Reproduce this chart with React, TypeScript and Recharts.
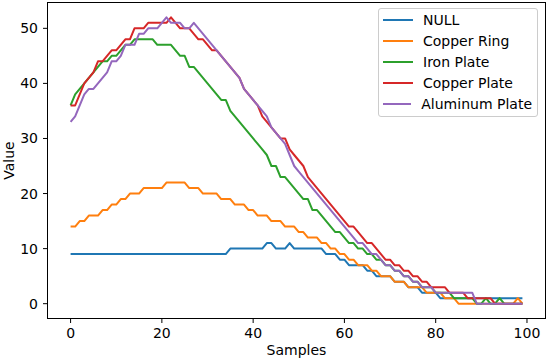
import React from "react";
import { LineChart, Line, XAxis, YAxis, Legend } from "recharts";

// readings per sample, one array per plate
const NULL_VALUES = [
  9, 9, 9, 9, 9, 9, 9, 9, 9, 9,
  9, 9, 9, 9, 9, 9, 9, 9, 9, 9,
  9, 9, 9, 9, 9, 9, 9, 9, 9, 9,
  9, 9, 9, 9, 9, 10, 10, 10, 10, 10,
  10, 10, 10, 11, 11, 10, 10, 10, 11, 10,
  10, 10, 10, 10, 10, 10, 9, 9, 9, 8,
  8, 7, 7, 7, 7, 6, 6, 5, 5, 5,
  5, 4, 4, 4, 3, 3, 3, 2, 2, 2,
  2, 1, 1, 1, 1, 1, 1, 1, 1, 1,
  1, 1, 1, 1, 1, 1, 1, 1, 1, 1,
];

const COPPER_RING = [
  14, 14, 15, 15, 16, 16, 16, 17, 17, 18,
  18, 19, 19, 20, 20, 20, 21, 21, 21, 21,
  21, 22, 22, 22, 22, 22, 21, 21, 21, 20,
  20, 20, 20, 19, 19, 19, 18, 18, 18, 17,
  17, 16, 16, 16, 15, 15, 15, 14, 14, 14,
  13, 13, 12, 12, 12, 11, 11, 10, 10, 9,
  9, 8, 8, 7, 7, 7, 6, 6, 5, 5,
  5, 4, 4, 4, 3, 3, 3, 3, 2, 2,
  2, 2, 1, 1, 1, 0, 0, 0, 0, 0,
  0, 0, 0, 0, 0, 0, 0, 0, 1, 0,
];

const IRON_PLATE = [
  36, 38, 39, 40, 41, 42, 43, 44, 44, 45,
  45, 46, 47, 47, 48, 48, 48, 48, 48, 47,
  47, 47, 47, 46, 45, 45, 43, 43, 42, 41,
  40, 39, 38, 37, 37, 35, 34, 33, 32, 31,
  30, 29, 28, 27, 25, 25, 23, 23, 22, 21,
  20, 19, 19, 17, 17, 16, 15, 14, 13, 13,
  12, 11, 11, 10, 10, 9, 9, 8, 8, 7,
  7, 6, 6, 5, 5, 4, 4, 3, 3, 3,
  2, 2, 2, 2, 1, 1, 1, 1, 1, 0,
  0, 1, 0, 0, 1, 0, 0, 0, 0, 0,
];

const COPPER_PLATE = [
  36, 36, 38, 40, 41, 42, 44, 44, 45, 46,
  46, 47, 48, 48, 50, 50, 50, 51, 51, 51,
  51, 51, 52, 51, 50, 50, 50, 49, 48, 48,
  47, 46, 46, 45, 44, 43, 42, 41, 39, 38,
  37, 36, 34, 33, 32, 31, 30, 30, 28, 27,
  26, 25, 23, 22, 21, 20, 19, 18, 17, 16,
  15, 14, 14, 13, 12, 11, 11, 10, 9, 8,
  8, 7, 7, 6, 6, 5, 5, 4, 4, 3,
  3, 3, 3, 2, 2, 2, 2, 1, 1, 1,
  1, 1, 1, 0, 0, 0, 0, 0, 0, 0,
];

const ALUMINUM_PLATE = [
  33, 34, 36, 38, 39, 39, 40, 41, 42, 44,
  44, 45, 47, 47, 47, 49, 49, 50, 50, 50,
  51, 52, 51, 51, 51, 50, 50, 51, 50, 49,
  48, 47, 46, 45, 44, 43, 42, 41, 39, 38,
  37, 36, 35, 34, 32, 31, 30, 29, 27, 25,
  24, 23, 22, 21, 20, 19, 18, 17, 16, 15,
  14, 13, 12, 11, 11, 10, 9, 9, 8, 7,
  7, 6, 6, 5, 5, 4, 4, 3, 3, 3,
  2, 2, 2, 2, 2, 2, 2, 2, 2, 0,
  0, 0, 0, 0, 0, 0, 0, 0, 0, 0,
];

const SERIES = [
  { key: "nullPlate", name: "NULL", color: "#1f77b4", values: NULL_VALUES },
  { key: "copperRing", name: "Copper Ring", color: "#ff7f0e", values: COPPER_RING },
  { key: "ironPlate", name: "Iron Plate", color: "#2ca02c", values: IRON_PLATE },
  { key: "copperPlate", name: "Copper Plate", color: "#d62728", values: COPPER_PLATE },
  { key: "aluminumPlate", name: "Aluminum Plate", color: "#9467bd", values: ALUMINUM_PLATE },
];

const X_TICKS = [0, 20, 40, 60, 80, 100];
const Y_TICKS = [0, 10, 20, 30, 40, 50];

const FONT = "'DejaVu Sans', sans-serif";

const data = NULL_VALUES.map((_, i) => {
  const row: Record<string, number> = { sample: i };
  SERIES.forEach((s) => {
    row[s.key] = s.values[i];
  });
  return row;
});

const tickStyle = { fill: "#000", fontSize: 14, fontFamily: FONT };

function YLabel(props: any) {
  const vb = props.viewBox || { x: 0, y: 3, width: 48, height: 315 };
  const cx = vb.x + 9;
  const cy = vb.y + vb.height / 2;
  return (
    <text
      x={cx}
      y={cy}
      transform={`rotate(-90 ${cx} ${cy})`}
      textAnchor="middle"
      dominantBaseline="central"
      fill="#000"
      fontSize={14}
      fontFamily={FONT}
    >
      Value
    </text>
  );
}

function XLabel(props: any) {
  const vb = props.viewBox || { x: 48, y: 318, width: 497, height: 42 };
  return (
    <text
      x={vb.x + vb.width / 2}
      y={vb.y + 37}
      textAnchor="middle"
      fill="#000"
      fontSize={14}
      fontFamily={FONT}
    >
      Samples
    </text>
  );
}

// keep the legend in plotting order (recharts sorts by name otherwise)
function LegendBox({ payload }: any) {
  const order = SERIES.map((s) => s.name);
  const items = (payload || [])
    .slice()
    .sort((a: any, b: any) => order.indexOf(a.value) - order.indexOf(b.value));
  return (
    <div
      style={{
        boxSizing: "border-box",
        width: 160,
        border: "1px solid #cccccc",
        borderRadius: 3,
        background: "rgba(255,255,255,0.8)",
        padding: "1px 5px 2px 4px",
        fontFamily: FONT,
        fontSize: 14,
        color: "#000",
      }}
    >
      {items.map((entry: any) => (
        <div
          key={entry.value}
          style={{ display: "flex", alignItems: "center", height: 20.8 }}
        >
          <span
            style={{
              display: "inline-block",
              width: 30,
              height: 2,
              background: entry.color,
              marginRight: 10,
            }}
          />
          <span style={{ whiteSpace: "nowrap" }}>{entry.value}</span>
        </div>
      ))}
    </div>
  );
}

export default function App() {
  return (
    <div
      style={{
        position: "absolute",
        left: 0,
        top: 0,
        width: 546,
        height: 360,
        background: "#fff",
      }}
    >
      <LineChart
        width={546}
        height={360}
        data={data}
        margin={{ top: 3, right: 1, left: 0, bottom: 0 }}
      >
        <XAxis
          dataKey="sample"
          type="number"
          domain={[-4.95, 103.95]}
          ticks={X_TICKS}
          height={42}
          axisLine={false}
          tickLine={{ stroke: "#000", strokeWidth: 1 }}
          tickSize={5}
          tickMargin={5}
          tick={tickStyle}
          label={<XLabel />}
        />
        <YAxis
          type="number"
          domain={[-2.6, 54.6]}
          ticks={Y_TICKS}
          width={48}
          axisLine={false}
          tickLine={{ stroke: "#000", strokeWidth: 1 }}
          tickSize={5}
          tickMargin={5}
          tick={tickStyle}
          label={<YLabel />}
        />
        <Legend
          layout="vertical"
          align="center"
          verticalAlign="middle"
          content={<LegendBox />}
          wrapperStyle={{ left: 378, top: 8, width: 160 }}
        />
        {SERIES.map((s) => (
          <Line
            key={s.key}
            type="linear"
            dataKey={s.key}
            name={s.name}
            stroke={s.color}
            strokeWidth={2}
            strokeLinejoin="round"
            dot={false}
            activeDot={false}
            isAnimationActive={false}
          />
        ))}
      </LineChart>
      <div
        style={{
          position: "absolute",
          left: 47,
          top: 2,
          width: 499,
          height: 317,
          boxSizing: "border-box",
          border: "1px solid #000",
          pointerEvents: "none",
        }}
      />
    </div>
  );
}
